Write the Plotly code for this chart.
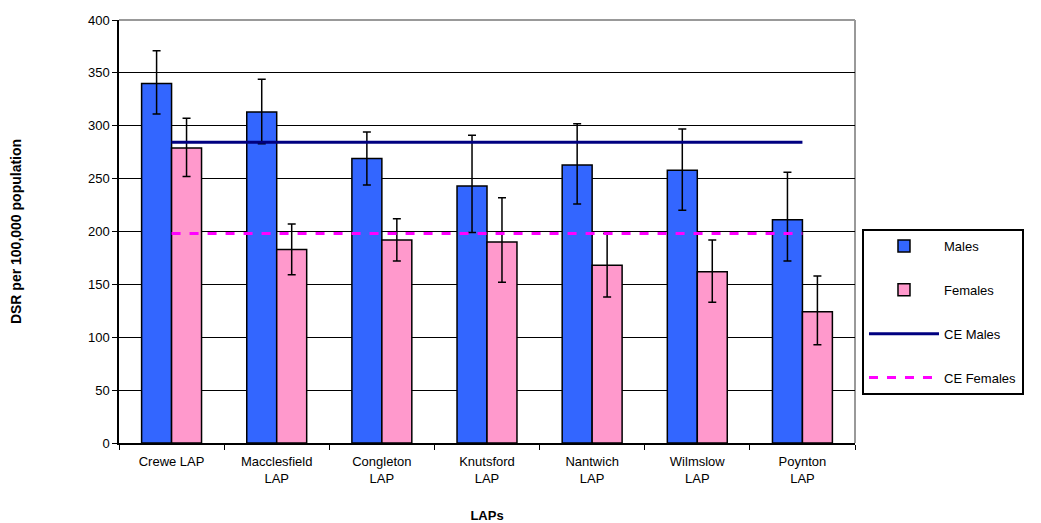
import plotly.graph_objects as go

categories = ["Crewe LAP", "Macclesfield<br>LAP", "Congleton<br>LAP", "Knutsford<br>LAP",
              "Nantwich<br>LAP", "Wilmslow<br>LAP", "Poynton<br>LAP"]
males = [340, 313, 269, 243, 263, 258, 211]
males_upper = [371, 344, 294, 291, 302, 297, 256]
males_lower = [311, 283, 244, 199, 226, 220, 172]
females = [279, 183, 192, 190, 168, 162, 124]
females_upper = [307, 207, 212, 232, 198, 192, 158]
females_lower = [252, 159, 172, 152, 138, 133, 93]
ce_males = 284.5
ce_females = 198

y_ticks = [0, 50, 100, 150, 200, 250, 300, 350, 400]

FONT = "Liberation Sans, Arial, sans-serif"

def err(vals, up, lo):
    return dict(type="data", symmetric=False,
                array=[u - v for u, v in zip(up, vals)],
                arrayminus=[v - l for v, l in zip(vals, lo)],
                color="black", thickness=1.5, width=4)

fig = go.Figure()
fig.add_trace(go.Bar(x=categories, y=males, name="Males", legendgroup="a",
                     marker=dict(color="#3366FF", line=dict(color="black", width=1.5)),
                     error_y=err(males, males_upper, males_lower)))
fig.add_trace(go.Bar(x=categories, y=females, name="Females", legendgroup="b",
                     marker=dict(color="#FF99CC", line=dict(color="black", width=1.5)),
                     error_y=err(females, females_upper, females_lower)))
fig.add_trace(go.Scatter(x=categories, y=[ce_males] * len(categories), name="CE Males",
                         legendgroup="c", mode="lines",
                         line=dict(color="#000080", width=3)))
fig.add_trace(go.Scatter(x=categories, y=[ce_females] * len(categories), name="CE Females",
                         legendgroup="d", mode="lines",
                         line=dict(color="#FF00FF", width=3, dash="dash")))

fig.update_layout(
    width=1041, height=523,
    margin=dict(l=111, r=194, t=12, b=88, autoexpand=False),
    paper_bgcolor="white", plot_bgcolor="white",
    font=dict(family=FONT, size=12, color="black"),
    barmode="group", bargap=0.43, bargroupgap=0,
    showlegend=True,
    legend=dict(x=1.0095, y=0.506, xanchor="left", yanchor="top",
                bordercolor="black", borderwidth=2, bgcolor="white",
                font=dict(size=13, family=FONT), tracegroupgap=24,
                traceorder="grouped", itemwidth=70),
    xaxis=dict(title=dict(text="<b>LAPs</b>", font=dict(size=13), standoff=26),
               automargin=False, ticklabelstandoff=6,
               showline=True, linecolor="black", linewidth=1.5,
               ticks="outside", tickson="boundaries", ticklen=5, tickcolor="black",
               showgrid=False, tickfont=dict(size=13)),
    yaxis=dict(title=dict(text="<b>DSR per 100,000 population</b>", font=dict(size=14), standoff=68),
               automargin=False,
               range=[0, 400], tickvals=y_ticks, showline=True, linecolor="black", linewidth=1.5,
               ticks="outside", ticklen=5, tickcolor="black",
               showgrid=True, gridcolor="black", gridwidth=1.3, zeroline=False,
               tickfont=dict(size=13)),
    shapes=[
        dict(type="line", xref="paper", yref="paper", x0=0, x1=1, y0=1, y1=1,
             line=dict(color="#999999", width=2), layer="below"),
        dict(type="line", xref="paper", yref="paper", x0=1, x1=1, y0=0, y1=1,
             line=dict(color="#999999", width=2), layer="below"),
    ],
)

fig.write_html("out.html")
